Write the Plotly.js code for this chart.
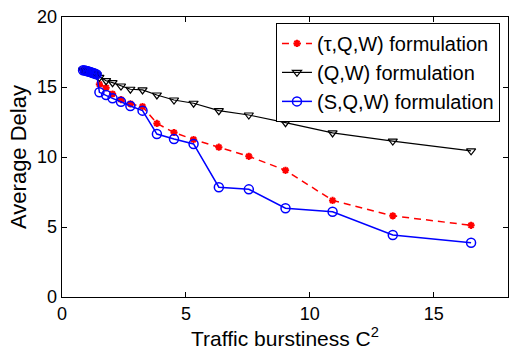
<!DOCTYPE html>
<html>
<head>
<meta charset="utf-8">
<script src="https://cdn.plot.ly/plotly-3.0.1.min.js"></script>
<style>
  html, body { margin: 0; padding: 0; background: #fff; }
  #chart { width: 509px; height: 351px; }
</style>
</head>
<body>
<div id="chart"></div>
<script>
// Traffic burstiness C^2 sample points (shared by all three formulations)
const burstiness = [0.85, 0.92, 0.98, 1.04, 1.1, 1.16, 1.22, 1.28, 1.34, 1.4,
                    1.51, 1.78, 2.04, 2.38, 2.76, 3.25, 3.83, 4.52, 5.31, 6.33,
                    7.54, 9.02, 10.92, 13.35, 16.51];

// Average delay for each formulation
const delayTauQW = [16.2, 16.17, 16.14, 16.11, 16.08, 16.04, 16.0, 15.96, 15.9, 15.82,
                    15.2, 14.95, 14.5, 14.1, 13.8, 13.6, 12.4, 11.75, 11.25, 10.7,
                    10.05, 9.05, 6.9, 5.8, 5.12];
const delayQW    = [16.2, 16.17, 16.14, 16.11, 16.08, 16.05, 16.01, 15.97, 15.92, 15.86,
                    15.69, 15.45, 15.31, 15.07, 14.84, 14.79, 14.43, 14.07, 13.84, 13.31,
                    13.0, 12.45, 11.72, 11.14, 10.44];
const delaySQW   = [16.2, 16.18, 16.15, 16.12, 16.09, 16.06, 16.02, 15.98, 15.94, 15.9,
                    14.62, 14.43, 14.19, 13.95, 13.64, 13.31, 11.64, 11.29, 10.93, 7.84,
                    7.69, 6.34, 6.09, 4.43, 3.88];

const seriesNames = ['(\u03c4,Q,W) formulation', '(Q,W) formulation', '(S,Q,W) formulation'];

const font = { family: '"Liberation Sans", Arial, Helvetica, sans-serif', color: '#000' };

const traces = [
  {
    x: burstiness, y: delayTauQW, name: seriesNames[0], type: 'scatter', mode: 'lines+markers',
    line: { color: '#ff0000', width: 1.5, dash: '7px,5px' },
    marker: { symbol: 'asterisk-open', size: 6, color: '#ff0000', line: { color: '#ff0000', width: 2 } }
  },
  {
    x: burstiness, y: delayQW, name: seriesNames[1], type: 'scatter', mode: 'lines+markers',
    line: { color: '#000000', width: 1.2 },
    marker: { symbol: 'triangle-down-open', size: 8, color: '#000000', line: { color: '#000000', width: 1.2 } }
  },
  {
    x: burstiness, y: delaySQW, name: seriesNames[2], type: 'scatter', mode: 'lines+markers',
    line: { color: '#0000ff', width: 1.5 },
    marker: { symbol: 'circle-open', size: 9, color: '#0000ff', line: { color: '#0000ff', width: 1.5 } }
  }
];

const axisCommon = {
  showline: true, linecolor: '#000', linewidth: 1.3, mirror: 'ticks',
  ticks: 'inside', ticklen: 5, tickwidth: 1, tickcolor: '#000',
  showgrid: false, zeroline: false,
  tickfont: Object.assign({ size: 18 }, font)
};

const layout = {
  width: 509, height: 351,
  margin: { l: 62, r: 1, t: 17, b: 54 },
  paper_bgcolor: '#fff', plot_bgcolor: '#fff',
  font: font,
  showlegend: true,
  xaxis: Object.assign({}, axisCommon, {
    range: [0, 18], tickvals: [0, 5, 10, 15], ticktext: ['0', '5', '10', '15'],
    title: { text: 'Traffic burstiness C<sup>2</sup>', font: Object.assign({ size: 21 }, font), standoff: 0 }
  }),
  yaxis: Object.assign({}, axisCommon, {
    range: [0, 20], tickvals: [0, 5, 10, 15, 20],
    title: { text: 'Average Delay', font: Object.assign({ size: 22 }, font), standoff: 4 }
  }),
  legend: {
    x: 0.982, y: 0.979, xanchor: 'right', yanchor: 'top',
    bgcolor: '#fff', bordercolor: '#000', borderwidth: 1,
    font: Object.assign({ size: 20 }, font),
    tracegroupgap: 0, itemwidth: 30
  }
};

Plotly.newPlot('chart', traces, layout, { staticPlot: true, displayModeBar: false });
</script>
</body>
</html>
